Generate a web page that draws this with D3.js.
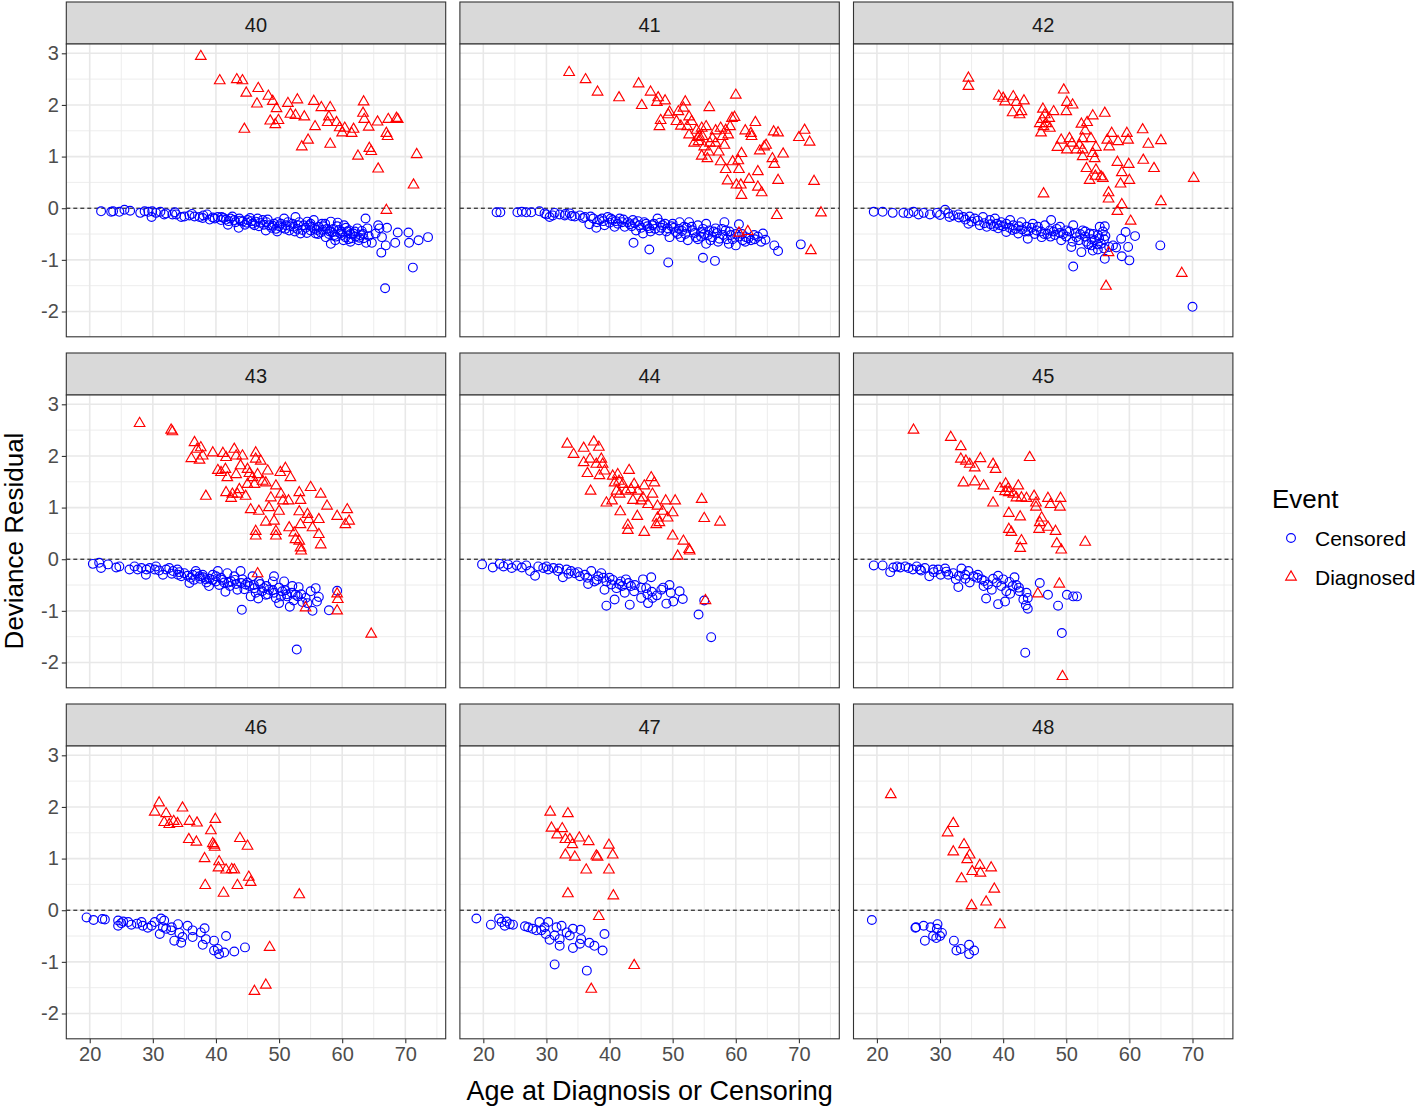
<!DOCTYPE html>
<html>
<head>
<meta charset="utf-8">
<script src="https://cdn.jsdelivr.net/npm/d3@7"></script>
<style>
  body { margin: 0; background: #fff; }
  text { font-family: "Liberation Sans", Arial, Helvetica, sans-serif; }
</style>
</head>
<body>
<div id="chart"></div>
<script>
// panel labels and tick values
const panelIds = ["40", "41", "42", "43", "44", "45", "46", "47", "48"];
const xTicks = [20, 30, 40, 50, 60, 70];
const yTicks = [-2, -1, 0, 1, 2, 3];
const eventLabels = ["Censored", "Diagnosed"];

// [age, deviance residual]
const cens40 = [[21.8,-0.06],[23.4,-0.07],[23.7,-0.06],[24.7,-0.07],[25.5,-0.03],[26.4,-0.05],[28.0,-0.09],[28.7,-0.06],[29.3,-0.07],[29.8,-0.17],[29.9,-0.06],[30.5,-0.09],[31.2,-0.07],[32.1,-0.10],[33.1,-0.12],[33.7,-0.12],[34.5,-0.17],[35.0,-0.16],[35.8,-0.14],[36.6,-0.16],[37.4,-0.17],[38.0,-0.14],[39.0,-0.22],[39.5,-0.18],[40.3,-0.17],[40.8,-0.23],[41.9,-0.32],[42.6,-0.16],[42.9,-0.23],[43.6,-0.38],[43.7,-0.20],[44.2,-0.26],[45.0,-0.23],[45.8,-0.30],[46.3,-0.26],[46.8,-0.35],[47.4,-0.23],[47.9,-0.43],[48.4,-0.33],[49.2,-0.30],[49.5,-0.40],[50.0,-0.35],[50.8,-0.20],[51.1,-0.33],[51.6,-0.43],[52.1,-0.30],[52.6,-0.17],[52.9,-0.40],[53.4,-0.49],[53.9,-0.33],[54.5,-0.26],[55.0,-0.43],[55.5,-0.23],[55.8,-0.49],[56.3,-0.36],[56.8,-0.30],[57.4,-0.56],[57.6,-0.40],[58.2,-0.69],[58.2,-0.26],[58.4,-0.46],[58.9,-0.62],[59.2,-0.35],[59.7,-0.49],[60.3,-0.33],[60.5,-0.56],[61.1,-0.43],[61.3,-0.65],[61.8,-0.49],[62.4,-0.39],[62.6,-0.62],[62.9,-0.52],[63.7,-0.20],[64.0,-0.39],[64.2,-0.54],[63.8,-0.67],[64.7,-0.67],[65.3,-0.49],[65.7,-0.33],[65.9,-0.39],[66.3,-0.56],[66.9,-0.72],[66.2,-0.86],[67.1,-0.38],[68.4,-0.67],[68.8,-0.47],[70.5,-0.47],[70.6,-0.67],[72.1,-0.62],[73.6,-0.56],[71.2,-1.15],[66.8,-1.55],
  [31.8,-0.12],[33.5,-0.08],[36.2,-0.11],[37.9,-0.19],[38.6,-0.12],[41.2,-0.19],[42.0,-0.25],[44.6,-0.32],[45.4,-0.19],[47.0,-0.28],[48.0,-0.27],[48.8,-0.38],[49.8,-0.27],[50.5,-0.38],[51.4,-0.27],[52.3,-0.36],[53.2,-0.27],[54.2,-0.38],[54.8,-0.33],[55.2,-0.36],[56.0,-0.42],[56.6,-0.47],[57.0,-0.35],[57.9,-0.50],[58.6,-0.40],[59.5,-0.42],[60.0,-0.52],[60.8,-0.45],[61.5,-0.58],[62.1,-0.55],[63.1,-0.44],[63.4,-0.58],
  [39.8,-0.20],[40.9,-0.17],[41.6,-0.22],[42.3,-0.20],[43.1,-0.27],[43.9,-0.24],[44.9,-0.28],[45.6,-0.25],[46.1,-0.33],[46.6,-0.20],[47.6,-0.32],[48.2,-0.22],[49.0,-0.34],[49.7,-0.45],[50.3,-0.30],[51.0,-0.40],[51.8,-0.35],[52.5,-0.45],[53.0,-0.33],[53.7,-0.42],[54.4,-0.48],[55.0,-0.30],[55.6,-0.40],[56.2,-0.50],[56.9,-0.42],[57.3,-0.30],[58.0,-0.45],[58.8,-0.52],[59.3,-0.28],[59.9,-0.45],[60.6,-0.38],[61.3,-0.50],[62.0,-0.45],[62.7,-0.57],[63.3,-0.50],[61.0,-0.60],[60.2,-0.62],[59.0,-0.55]];
const diag40 = [[37.6,2.94],[40.6,2.47],[43.3,2.49],[44.2,2.47],[44.8,2.23],[46.7,2.32],[46.5,2.02],[44.5,1.53],[48.3,2.17],[49.0,2.07],[49.6,1.93],[48.6,1.69],[49.4,1.62],[49.9,1.70],[51.4,2.03],[52.9,2.10],[51.8,1.82],[52.6,1.80],[54.0,1.77],[55.5,2.07],[56.7,1.95],[58.1,1.95],[55.7,1.58],[57.9,1.77],[57.7,1.66],[59.1,1.66],[59.6,1.56],[60.4,1.55],[60.0,1.46],[61.5,1.45],[61.8,1.53],[54.6,1.32],[53.6,1.19],[58.1,1.24],[63.4,2.06],[63.3,1.84],[63.5,1.72],[64.2,1.57],[65.6,1.67],[67.3,1.72],[68.6,1.74],[68.8,1.72],[67.0,1.45],[67.2,1.39],[62.5,1.01],[64.3,1.16],[64.6,1.10],[65.7,0.76],[71.8,1.04],[71.3,0.45],[67.0,-0.04]];

const cens41 = [[22.1,-0.08],[22.7,-0.08],[25.4,-0.08],[26.1,-0.07],[26.8,-0.08],[27.6,-0.08],[28.9,-0.06],[29.7,-0.10],[30.5,-0.17],[31.3,-0.09],[32.1,-0.12],[32.9,-0.14],[33.7,-0.10],[34.5,-0.16],[35.3,-0.14],[36.1,-0.17],[36.8,-0.31],[37.4,-0.20],[37.9,-0.38],[38.4,-0.23],[39.2,-0.33],[39.7,-0.17],[40.5,-0.23],[40.8,-0.36],[41.6,-0.20],[42.4,-0.36],[42.9,-0.27],[43.7,-0.23],[44.2,-0.43],[44.7,-0.33],[45.3,-0.49],[45.8,-0.30],[46.3,-0.39],[46.8,-0.33],[47.6,-0.20],[47.9,-0.43],[48.4,-0.33],[49.2,-0.39],[49.5,-0.56],[50.0,-0.30],[50.5,-0.46],[51.1,-0.27],[51.3,-0.56],[51.8,-0.36],[52.4,-0.62],[52.6,-0.27],[53.2,-0.43],[53.7,-0.56],[54.0,-0.33],[54.5,-0.46],[55.3,-0.69],[55.3,-0.30],[55.8,-0.43],[56.3,-0.56],[56.8,-0.39],[57.4,-0.59],[58.2,-0.27],[58.4,-0.43],[58.9,-0.69],[59.2,-0.52],[60.0,-0.72],[60.5,-0.31],[61.1,-0.62],[61.6,-0.56],[62.4,-0.62],[62.9,-0.52],[64.0,-0.65],[64.3,-0.49],[64.7,-0.61],[66.1,-0.72],[66.7,-0.83],[70.3,-0.70],[43.8,-0.67],[46.3,-0.80],[49.3,-1.05],[54.8,-0.96],[56.7,-1.02],
  [30.0,-0.12],[31.0,-0.14],[33.0,-0.11],[34.0,-0.15],[35.8,-0.19],[37.0,-0.16],[38.8,-0.20],[40.0,-0.28],[41.0,-0.25],[42.0,-0.27],[43.2,-0.31],[44.0,-0.29],[45.0,-0.38],[46.0,-0.35],[47.2,-0.40],[48.0,-0.28],[49.0,-0.45],[50.2,-0.38],[51.5,-0.44],[52.0,-0.50],[53.0,-0.36],[54.5,-0.55],[55.0,-0.50],[56.0,-0.62],[57.0,-0.48],[58.0,-0.52],[59.5,-0.60],[60.5,-0.55],
  [38.0,-0.27],[39.0,-0.25],[40.2,-0.20],[41.3,-0.30],[42.2,-0.22],[43.5,-0.35],[44.5,-0.25],[45.5,-0.27],[46.5,-0.45],[47.0,-0.30],[48.2,-0.38],[48.8,-0.30],[49.8,-0.35],[50.8,-0.50],[51.0,-0.40],[52.2,-0.38],[53.5,-0.48],[54.0,-0.60],[54.8,-0.40],[55.6,-0.52],[56.5,-0.45],[57.2,-0.65],[57.8,-0.40],[58.6,-0.60],[59.0,-0.45],[60.0,-0.50],[61.0,-0.50],[61.5,-0.65],[62.0,-0.58],[63.0,-0.60],[63.5,-0.55]];
const diag41 = [[33.6,2.63],[36.2,2.49],[38.1,2.25],[41.5,2.14],[44.6,2.41],[45.1,1.99],[46.5,2.25],[47.7,2.14],[47.5,2.05],[48.8,2.08],[49.5,1.86],[49.3,1.81],[48.1,1.70],[47.9,1.58],[50.6,1.68],[50.9,1.87],[51.7,1.94],[52.0,2.06],[51.3,1.59],[52.3,1.58],[53.0,1.68],[52.6,1.42],[53.8,1.51],[53.4,1.26],[54.0,1.37],[54.6,1.55],[54.7,1.39],[55.3,1.58],[55.8,1.95],[54.6,1.01],[55.0,1.19],[55.7,1.09],[55.9,1.26],[56.3,1.35],[56.8,1.50],[57.6,1.55],[57.9,1.39],[58.4,1.51],[58.8,1.42],[59.1,1.58],[59.4,1.74],[59.8,1.76],[60.0,2.19],[58.2,1.22],[57.6,0.90],[58.4,0.75],[58.7,0.53],[59.5,0.90],[60.4,0.92],[60.5,0.75],[60.9,1.06],[60.1,0.45],[60.8,0.45],[60.9,0.25],[61.5,1.50],[62.5,1.39],[62.4,1.45],[63.1,1.66],[62.1,0.56],[63.5,0.71],[63.5,0.41],[64.1,0.30],[63.8,1.11],[64.5,1.19],[64.8,1.22],[65.8,0.96],[66.1,0.85],[66.0,1.48],[66.7,1.46],[67.5,1.05],[66.7,0.54],[70.0,1.37],[70.9,1.51],[71.7,1.28],[72.4,0.52],[73.5,-0.09],[66.5,-0.14],[71.9,-0.82],[60.5,-0.48],[61.9,-0.45],[54.1,1.29],[55.5,0.96],[56.8,1.26],[57.3,1.09],[52.6,1.77],[54.2,1.39]];

const cens42 = [[19.5,-0.07],[20.9,-0.07],[22.5,-0.09],[24.2,-0.09],[25.0,-0.10],[25.8,-0.07],[26.6,-0.12],[27.4,-0.09],[28.4,-0.12],[29.5,-0.09],[30.8,-0.03],[31.3,-0.10],[32.1,-0.14],[32.9,-0.12],[33.7,-0.17],[34.5,-0.30],[34.7,-0.16],[35.5,-0.20],[36.3,-0.33],[36.8,-0.17],[37.4,-0.36],[37.9,-0.23],[38.7,-0.20],[39.2,-0.39],[39.7,-0.27],[40.5,-0.46],[41.1,-0.23],[41.6,-0.33],[42.4,-0.49],[42.9,-0.27],[43.7,-0.36],[43.9,-0.59],[44.7,-0.30],[45.3,-0.43],[46.1,-0.56],[46.6,-0.33],[47.4,-0.43],[47.6,-0.23],[48.2,-0.52],[49.0,-0.36],[49.2,-0.62],[50.0,-0.43],[50.8,-0.75],[51.1,-0.33],[51.6,-0.56],[52.4,-0.85],[52.6,-0.43],[53.2,-0.65],[53.7,-0.49],[54.2,-0.82],[54.5,-0.62],[55.0,-0.52],[55.3,-0.36],[55.5,-0.69],[56.1,-0.35],[56.2,-0.54],[56.1,-0.98],[56.8,-0.75],[57.4,-0.72],[57.9,-0.76],[58.7,-0.59],[58.8,-0.93],[59.4,-0.46],[59.8,-0.75],[60.0,-1.01],[60.9,-0.54],[64.9,-0.72],[51.1,-1.13],[70.0,-1.91],
  [30.0,-0.13],[31.5,-0.17],[33.0,-0.18],[34.0,-0.22],[35.0,-0.26],[36.0,-0.24],[37.0,-0.29],[38.0,-0.31],[39.0,-0.30],[40.0,-0.35],[41.0,-0.38],[42.0,-0.40],[43.0,-0.41],[44.0,-0.45],[45.0,-0.50],[46.0,-0.45],[47.0,-0.50],[48.0,-0.45],[49.0,-0.48],[50.0,-0.55],[51.5,-0.48],[52.0,-0.62],[53.0,-0.55],[54.0,-0.60],[55.0,-0.70],[56.0,-0.60],
  [38.5,-0.35],[39.5,-0.33],[40.5,-0.30],[41.5,-0.42],[42.5,-0.35],[43.5,-0.45],[44.5,-0.38],[45.5,-0.36],[46.5,-0.50],[47.5,-0.55],[48.5,-0.40],[49.5,-0.50],[50.5,-0.45],[51.0,-0.65],[52.2,-0.50],[53.0,-0.45],[53.5,-0.70],[54.3,-0.50],[55.2,-0.58],[55.8,-0.45],[56.0,-0.78],[55.0,-0.80],[54.0,-0.72]];
const diag42 = [[34.5,2.52],[34.5,2.36],[39.3,2.17],[40.0,2.13],[40.3,2.06],[41.6,2.16],[42.1,2.05],[43.3,2.08],[41.5,1.85],[42.6,1.81],[42.9,1.87],[49.6,2.29],[50.1,2.05],[51.0,2.00],[50.0,1.87],[46.3,1.92],[46.6,1.81],[46.2,1.72],[45.8,1.64],[46.8,1.64],[47.4,1.55],[46.0,1.46],[48.0,1.87],[47.3,1.74],[46.4,1.58],[50.5,1.35],[50.9,1.26],[50.1,1.13],[48.6,1.18],[49.2,1.32],[51.6,1.13],[52.1,1.22],[52.6,1.35],[53.0,1.50],[52.4,1.63],[53.3,1.66],[54.2,1.79],[56.1,1.84],[52.6,1.13],[52.6,1.00],[53.9,1.35],[54.7,1.18],[54.2,1.06],[54.5,0.96],[53.2,0.77],[54.7,0.74],[54.6,0.62],[55.5,0.61],[55.8,0.58],[53.7,0.54],[56.5,1.32],[57.2,1.45],[56.8,1.19],[58.2,1.29],[59.6,1.45],[59.8,1.32],[58.1,0.89],[59.9,0.85],[58.8,0.69],[60.0,0.54],[58.6,0.47],[56.7,0.30],[56.7,0.18],[58.8,0.07],[58.1,-0.06],[60.2,-0.25],[62.1,1.52],[63.0,1.24],[65.0,1.31],[62.2,0.93],[63.9,0.77],[46.4,0.28],[65.0,0.13],[70.2,0.58],[56.7,-0.86],[56.3,-1.51],[68.3,-1.26]];

const cens43 = [[20.5,-0.09],[21.5,-0.07],[21.8,-0.17],[22.9,-0.10],[24.2,-0.16],[24.7,-0.14],[26.3,-0.20],[27.1,-0.14],[27.6,-0.20],[28.2,-0.17],[28.9,-0.30],[29.5,-0.17],[30.3,-0.20],[30.5,-0.14],[31.6,-0.30],[32.1,-0.20],[32.6,-0.17],[33.2,-0.23],[33.9,-0.20],[34.5,-0.33],[35.0,-0.27],[35.8,-0.46],[36.3,-0.30],[36.8,-0.23],[37.4,-0.33],[37.9,-0.30],[38.4,-0.39],[38.9,-0.52],[39.5,-0.30],[40.0,-0.43],[40.3,-0.23],[40.8,-0.36],[41.5,-0.63],[41.8,-0.27],[42.4,-0.43],[42.9,-0.33],[43.4,-0.59],[43.9,-0.23],[44.2,-0.39],[44.7,-0.49],[45.5,-0.72],[45.8,-0.33],[46.1,-0.56],[46.7,-0.76],[46.8,-0.43],[47.6,-0.56],[47.9,-0.69],[48.4,-0.59],[49.0,-0.43],[49.2,-0.33],[49.5,-0.75],[50.0,-0.85],[50.5,-0.62],[50.8,-0.43],[51.3,-0.72],[51.7,-0.92],[52.1,-0.52],[52.6,-0.69],[53.1,-0.54],[53.7,-0.83],[54.2,-0.75],[55.0,-0.62],[55.3,-1.00],[55.8,-0.56],[56.3,-0.73],[57.9,-0.99],[59.2,-0.61],[44.1,-0.98],[52.8,-1.75],
  [29.0,-0.20],[31.0,-0.22],[33.0,-0.28],[34.2,-0.25],[36.0,-0.36],[37.0,-0.28],[38.0,-0.35],[39.0,-0.38],[40.0,-0.33],[41.0,-0.40],[42.0,-0.45],[43.0,-0.40],[44.0,-0.46],[45.0,-0.45],[46.0,-0.50],[47.0,-0.48],[48.0,-0.52],[49.0,-0.60],[50.0,-0.55],[51.0,-0.60],[52.0,-0.65],[53.0,-0.72],
  [34.0,-0.30],[35.5,-0.32],[36.5,-0.40],[37.5,-0.38],[38.5,-0.45],[39.5,-0.40],[40.5,-0.50],[41.3,-0.45],[42.2,-0.52],[43.2,-0.48],[44.5,-0.58],[45.3,-0.52],[46.3,-0.65],[47.3,-0.62],[48.2,-0.68],[49.2,-0.65],[50.3,-0.72],[51.2,-0.68],[52.3,-0.80],[53.5,-0.68],[54.5,-0.85],[56.0,-0.82]];
const diag43 = [[27.9,2.63],[32.9,2.50],[33.1,2.47],[36.6,2.26],[36.1,1.95],[37.0,2.13],[37.6,2.16],[37.4,1.92],[37.9,2.00],[39.5,2.06],[41.1,2.05],[41.6,1.97],[42.9,2.13],[43.2,2.00],[44.2,2.00],[46.3,2.06],[46.3,1.94],[40.3,1.72],[40.8,1.68],[41.5,1.74],[41.8,1.58],[43.2,1.64],[43.9,1.81],[45.0,1.74],[45.3,1.66],[45.8,1.58],[46.6,1.64],[47.1,1.90],[48.2,1.71],[47.4,1.51],[50.2,1.68],[51.0,1.76],[51.8,1.58],[45.0,1.45],[46.1,1.45],[47.9,1.48],[49.5,1.42],[43.7,1.35],[41.6,1.29],[42.4,1.18],[42.6,1.26],[44.7,1.22],[43.4,1.26],[38.4,1.22],[48.7,1.19],[50.3,1.26],[50.6,1.13],[51.5,1.13],[53.2,1.29],[53.4,1.14],[55.0,1.39],[56.6,1.26],[57.6,1.03],[45.5,0.96],[46.8,0.93],[48.4,1.00],[50.0,0.93],[53.2,0.92],[54.5,0.87],[54.7,0.77],[56.3,0.77],[47.9,0.72],[49.2,0.74],[51.6,0.61],[53.4,0.67],[55.3,0.61],[59.2,0.83],[60.8,0.96],[61.1,0.74],[60.5,0.67],[46.3,0.54],[46.3,0.45],[49.5,0.54],[49.5,0.45],[52.4,0.51],[52.6,0.38],[53.2,0.35],[53.4,0.22],[53.5,0.16],[56.3,0.48],[56.6,0.28],[46.6,-0.28],[54.2,-0.94],[59.2,-0.67],[59.3,-0.78],[59.2,-1.00],[64.6,-1.45]];

const cens44 = [[19.8,-0.10],[21.5,-0.16],[22.6,-0.09],[23.2,-0.14],[23.9,-0.10],[24.5,-0.17],[25.3,-0.12],[26.1,-0.16],[26.8,-0.12],[27.4,-0.23],[28.2,-0.32],[28.7,-0.14],[29.5,-0.17],[30.3,-0.20],[31.1,-0.17],[31.8,-0.23],[32.6,-0.35],[33.2,-0.20],[33.9,-0.23],[34.5,-0.27],[35.3,-0.33],[36.1,-0.30],[36.6,-0.48],[37.1,-0.23],[37.6,-0.43],[38.2,-0.33],[38.7,-0.27],[39.2,-0.59],[39.5,-0.43],[40.0,-0.36],[40.3,-0.49],[40.8,-0.78],[41.1,-0.56],[39.5,-0.90],[41.8,-0.43],[42.4,-0.65],[42.6,-0.39],[43.2,-0.88],[43.4,-0.52],[43.9,-0.62],[45.0,-0.75],[45.3,-0.39],[45.8,-0.56],[46.1,-0.85],[46.6,-0.35],[46.7,-0.63],[46.8,-0.75],[48.2,-0.59],[49.0,-0.86],[49.5,-0.50],[49.7,-0.65],[50.1,-0.82],[51.1,-0.62],[51.6,-0.77],[55.0,-0.80],[54.1,-1.07],[56.1,-1.51],
  [30.0,-0.14],[32.0,-0.18],[33.5,-0.28],[35.0,-0.25],[36.5,-0.36],[38.0,-0.40],[39.0,-0.36],[40.5,-0.40],[41.5,-0.48],[42.0,-0.52],[43.0,-0.46],[44.0,-0.50],[45.0,-0.55],[46.0,-0.68],[47.5,-0.70],[48.5,-0.55]];
const diag44 = [[33.3,2.23],[34.3,2.03],[35.9,2.15],[37.5,2.27],[38.3,2.17],[35.9,1.87],[36.9,1.94],[37.9,1.84],[38.7,1.94],[38.9,1.84],[36.5,1.66],[38.4,1.62],[39.2,1.71],[37.0,1.32],[40.5,1.61],[41.3,1.64],[43.1,1.72],[40.8,1.48],[41.5,1.51],[42.1,1.45],[41.1,1.32],[41.6,1.26],[42.6,1.32],[43.4,1.35],[43.9,1.45],[44.5,1.32],[45.5,1.42],[46.6,1.58],[47.1,1.48],[46.8,1.26],[45.3,1.19],[43.7,1.14],[45.0,1.13],[46.1,1.06],[47.6,1.03],[48.9,1.13],[50.4,1.13],[39.5,1.09],[40.4,1.13],[41.7,0.92],[44.4,0.83],[47.6,0.80],[48.4,0.93],[49.2,0.80],[50.0,0.90],[47.4,0.67],[47.9,0.71],[42.9,0.66],[42.9,0.56],[45.5,0.52],[50.0,0.45],[51.7,0.35],[52.6,0.19],[52.7,0.16],[50.8,0.06],[54.6,1.16],[55.0,0.79],[57.5,0.72],[55.2,-0.80]];

const cens45 = [[19.5,-0.12],[20.9,-0.12],[22.1,-0.25],[22.6,-0.16],[23.2,-0.14],[23.7,-0.16],[24.5,-0.14],[25.0,-0.17],[25.7,-0.20],[26.3,-0.14],[26.8,-0.20],[27.6,-0.17],[28.3,-0.33],[28.9,-0.20],[29.7,-0.20],[30.1,-0.30],[30.8,-0.18],[31.3,-0.30],[32.1,-0.27],[32.5,-0.39],[32.9,-0.54],[33.4,-0.18],[34.0,-0.30],[34.5,-0.23],[34.7,-0.45],[35.3,-0.33],[35.9,-0.36],[36.6,-0.39],[36.9,-0.52],[37.6,-0.49],[37.3,-0.76],[38.2,-0.59],[38.4,-0.38],[39.2,-0.32],[39.2,-0.87],[39.7,-0.52],[40.0,-0.39],[40.3,-0.82],[40.5,-0.62],[41.1,-0.67],[41.5,-0.52],[41.8,-0.35],[42.1,-0.50],[42.6,-0.62],[43.2,-0.78],[43.7,-0.65],[43.6,-0.89],[43.9,-0.96],[43.9,-0.75],[45.8,-0.46],[47.1,-0.69],[48.7,-0.90],[50.1,-0.69],[51.1,-0.72],[51.7,-0.72],[49.3,-1.43],[43.5,-1.81],
  [27.0,-0.22],[29.0,-0.25],[31.0,-0.24],[33.0,-0.32],[34.0,-0.38],[36.0,-0.30],[37.0,-0.42],[39.0,-0.45],[41.0,-0.44],[42.5,-0.55]];
const diag45 = [[25.8,2.50],[31.7,2.36],[33.3,2.18],[33.3,1.94],[34.1,1.90],[34.7,1.84],[35.5,1.77],[36.4,1.95],[38.4,1.84],[38.8,1.74],[44.2,1.97],[33.7,1.48],[35.5,1.50],[36.9,1.42],[39.5,1.37],[40.4,1.46],[40.8,1.37],[40.9,1.29],[41.6,1.26],[42.4,1.42],[42.1,1.19],[42.9,1.19],[43.7,1.18],[44.9,1.22],[45.2,1.09],[45.2,1.01],[47.1,1.18],[47.5,1.06],[49.1,1.18],[49.0,1.01],[40.3,1.31],[38.4,1.09],[40.9,0.89],[42.7,0.82],[46.1,0.80],[45.8,0.71],[45.7,0.58],[47.1,0.62],[48.3,0.54],[40.9,0.58],[41.3,0.52],[42.9,0.36],[42.7,0.21],[48.5,0.30],[49.2,0.18],[53.0,0.33],[48.9,-0.48],[45.5,-0.67],[49.4,-2.27]];

const cens46 = [[19.5,-0.14],[20.6,-0.19],[22.0,-0.17],[22.4,-0.18],[24.5,-0.20],[24.5,-0.30],[25.3,-0.22],[26.1,-0.23],[26.6,-0.28],[28.2,-0.23],[28.4,-0.30],[29.2,-0.34],[30.3,-0.23],[31.1,-0.46],[31.3,-0.16],[31.8,-0.20],[31.6,-0.33],[32.1,-0.36],[32.9,-0.39],[33.4,-0.59],[34.0,-0.27],[34.2,-0.44],[34.5,-0.63],[34.7,-0.52],[35.5,-0.30],[36.3,-0.39],[36.3,-0.52],[37.6,-0.43],[37.9,-0.67],[38.2,-0.35],[38.4,-0.56],[39.7,-0.59],[39.7,-0.78],[40.3,-0.75],[40.5,-0.85],[41.3,-0.82],[41.6,-0.50],[42.9,-0.80],[44.6,-0.72],[25.0,-0.25],[27.5,-0.26],[29.8,-0.30],[33.0,-0.33]];
const diag46 = [[31.0,2.08],[30.3,1.90],[32.1,1.87],[34.7,1.98],[31.8,1.70],[32.6,1.66],[33.3,1.72],[33.9,1.68],[35.8,1.72],[37.0,1.69],[39.9,1.76],[39.2,1.54],[35.7,1.37],[36.9,1.32],[39.5,1.29],[39.7,1.26],[39.8,1.22],[43.8,1.39],[45.0,1.24],[38.2,1.00],[40.5,0.94],[40.4,0.82],[41.6,0.78],[42.5,0.79],[42.9,0.78],[45.2,0.64],[45.5,0.54],[38.3,0.48],[41.2,0.33],[43.4,0.48],[53.2,0.30],[48.5,-0.72],[47.9,-1.45],[46.1,-1.57]];

const cens47 = [[18.9,-0.16],[21.2,-0.28],[22.5,-0.16],[22.9,-0.23],[23.4,-0.30],[23.7,-0.22],[24.2,-0.27],[24.7,-0.28],[26.6,-0.31],[27.1,-0.33],[27.8,-0.36],[28.4,-0.39],[28.9,-0.23],[29.2,-0.39],[29.7,-0.33],[30.3,-0.23],[29.9,-0.46],[30.5,-0.57],[31.3,-0.49],[31.6,-0.33],[32.1,-0.56],[32.1,-0.69],[32.4,-0.30],[33.2,-0.43],[33.7,-0.49],[34.2,-0.36],[34.2,-0.73],[35.3,-0.65],[35.4,-0.38],[35.5,-0.56],[36.8,-0.63],[37.6,-0.69],[38.9,-0.78],[39.2,-0.46],[31.3,-1.05],[36.4,-1.17]];
const diag47 = [[30.6,1.90],[33.4,1.87],[30.8,1.59],[32.5,1.58],[31.7,1.46],[33.0,1.37],[33.7,1.37],[34.1,1.27],[35.2,1.40],[36.7,1.33],[39.9,1.26],[33.0,1.07],[34.5,1.03],[37.9,1.05],[38.1,1.03],[40.5,1.07],[36.3,0.78],[39.9,0.78],[33.4,0.32],[40.6,0.28],[38.3,-0.12],[43.9,-1.07],[37.1,-1.53]];

const cens48 = [[19.2,-0.19],[26.1,-0.34],[26.2,-0.33],[27.4,-0.30],[28.5,-0.33],[29.6,-0.27],[29.5,-0.36],[30.3,-0.44],[28.9,-0.50],[29.4,-0.54],[30.0,-0.50],[27.6,-0.59],[32.2,-0.59],[32.6,-0.78],[33.3,-0.75],[34.6,-0.67],[34.6,-0.85],[35.4,-0.78]];
const diag48 = [[22.2,2.24],[32.1,1.68],[31.2,1.50],[33.8,1.27],[34.7,1.07],[32.1,1.13],[34.3,0.98],[36.3,0.87],[38.1,0.82],[35.1,0.75],[36.4,0.72],[33.4,0.61],[38.6,0.41],[37.3,0.16],[35.0,0.09],[39.5,-0.28]];

const censored = {"40": cens40, "41": cens41, "42": cens42, "43": cens43, "44": cens44, "45": cens45, "46": cens46, "47": cens47, "48": cens48};
const diagnosed = {"40": diag40, "41": diag41, "42": diag42, "43": diag43, "44": diag44, "45": diag45, "46": diag46, "47": diag47, "48": diag48};

// layout
const W = 1418, H = 1108;
const colX = [66.3, 459.9, 853.5];
const rowY = [2, 353, 704];
const panelW = 379.4, stripH = 42, plotH = 292.8;
const blue = "#0000FF", red = "#FF0000";
const tri = "M0,-6.1L5.3,3.05L-5.3,3.05Z";
const fontFam = '"Liberation Sans", Arial, sans-serif';

const x = d3.scaleLinear().domain([16.29, 76.4]).range([0, panelW]);
const y = d3.scaleLinear().domain([-2.49, 3.18]).range([plotH, 0]);

const svg = d3.select("#chart").append("svg")
    .attr("width", W).attr("height", H)
    .style("background", "#fff");

panelIds.forEach(function (id, i) {
  const col = i % 3, row = Math.floor(i / 3);
  const g = svg.append("g")
      .attr("transform", `translate(${colX[col]}, ${rowY[row]})`);

  // strip
  g.append("rect")
      .attr("width", panelW).attr("height", stripH)
      .attr("fill", "#D9D9D9").attr("stroke", "#333333").attr("stroke-width", 1.1);
  g.append("text")
      .attr("x", panelW / 2).attr("y", 29.5)
      .attr("text-anchor", "middle")
      .attr("font-size", 20).attr("fill", "#1A1A1A")
      .text(id);

  const p = g.append("g").attr("transform", `translate(0, ${stripH})`);
  p.append("rect").attr("width", panelW).attr("height", plotH).attr("fill", "#fff");

  // grid
  const xMinor = [25, 35, 45, 55, 65, 75], yMinor = [-1.5, -0.5, 0.5, 1.5, 2.5];
  p.selectAll(".vminor").data(xMinor).join("line")
      .attr("x1", d => x(d)).attr("x2", d => x(d)).attr("y1", 0).attr("y2", plotH)
      .attr("stroke", "#EBEBEB").attr("stroke-width", 0.9);
  p.selectAll(".hminor").data(yMinor).join("line")
      .attr("y1", d => y(d)).attr("y2", d => y(d)).attr("x1", 0).attr("x2", panelW)
      .attr("stroke", "#EBEBEB").attr("stroke-width", 0.9);
  p.selectAll(".vmajor").data(xTicks).join("line")
      .attr("x1", d => x(d)).attr("x2", d => x(d)).attr("y1", 0).attr("y2", plotH)
      .attr("stroke", "#E8E8E8").attr("stroke-width", 1.6);
  p.selectAll(".hmajor").data(yTicks).join("line")
      .attr("y1", d => y(d)).attr("y2", d => y(d)).attr("x1", 0).attr("x2", panelW)
      .attr("stroke", "#E8E8E8").attr("stroke-width", 1.6);

  // dashed zero line
  p.append("line")
      .attr("x1", 0).attr("x2", panelW).attr("y1", y(0)).attr("y2", y(0))
      .attr("stroke", "#000").attr("stroke-width", 1).attr("stroke-dasharray", "4,3");

  const clipId = "clip" + id;
  p.append("clipPath").attr("id", clipId)
    .append("rect").attr("width", panelW).attr("height", plotH);
  const pts = p.append("g").attr("clip-path", `url(#${clipId})`);

  pts.selectAll("circle").data(censored[id]).join("circle")
      .attr("cx", d => x(d[0])).attr("cy", d => y(d[1])).attr("r", 4.4)
      .attr("fill", "none").attr("stroke", blue).attr("stroke-width", 1.15);
  pts.selectAll("path").data(diagnosed[id]).join("path")
      .attr("d", tri)
      .attr("transform", d => `translate(${x(d[0])}, ${y(d[1])})`)
      .attr("fill", "none").attr("stroke", red).attr("stroke-width", 1.15);

  p.append("rect").attr("width", panelW).attr("height", plotH)
      .attr("fill", "none").attr("stroke", "#333333").attr("stroke-width", 1.1);

  // axes on outer panels only
  if (col === 0) {
    const ay = p.append("g").call(d3.axisLeft(y).tickValues(yTicks)
        .tickFormat(d => String(d)).tickSize(4.5).tickPadding(3));
    ay.select(".domain").remove();
    ay.selectAll("line").attr("stroke", "#333333").attr("stroke-width", 1.1);
    ay.selectAll("text").attr("font-size", 20).attr("fill", "#4D4D4D").attr("font-family", fontFam);
  }
  if (row === 2) {
    const ax = p.append("g").attr("transform", `translate(0, ${plotH})`)
        .call(d3.axisBottom(x).tickValues(xTicks)
        .tickFormat(d => String(d)).tickSize(4.5).tickPadding(4));
    ax.select(".domain").remove();
    ax.selectAll("line").attr("stroke", "#333333").attr("stroke-width", 1.1);
    ax.selectAll("text").attr("font-size", 20).attr("fill", "#4D4D4D").attr("font-family", fontFam);
  }
});

// axis titles
svg.append("text")
    .attr("transform", "translate(23, 541) rotate(-90)")
    .attr("text-anchor", "middle").attr("font-size", 26).attr("fill", "#000")
    .text("Deviance Residual");
svg.append("text")
    .attr("x", 649.6).attr("y", 1100)
    .attr("text-anchor", "middle").attr("font-size", 27).attr("fill", "#000")
    .text("Age at Diagnosis or Censoring");

// legend
const lg = svg.append("g").attr("transform", "translate(1272, 0)");
lg.append("text").attr("x", 0).attr("y", 508).attr("font-size", 26).attr("fill", "#000").text("Event");
lg.append("circle").attr("cx", 19).attr("cy", 538).attr("r", 4.4)
    .attr("fill", "none").attr("stroke", blue).attr("stroke-width", 1.15);
lg.append("path").attr("d", tri).attr("transform", "translate(19, 577)")
    .attr("fill", "none").attr("stroke", red).attr("stroke-width", 1.15);
lg.selectAll(".lab").data(eventLabels).join("text")
    .attr("x", 43).attr("y", (d, i) => 546 + i * 39)
    .attr("font-size", 21).attr("fill", "#000")
    .text(d => d);
</script>
</body>
</html>
